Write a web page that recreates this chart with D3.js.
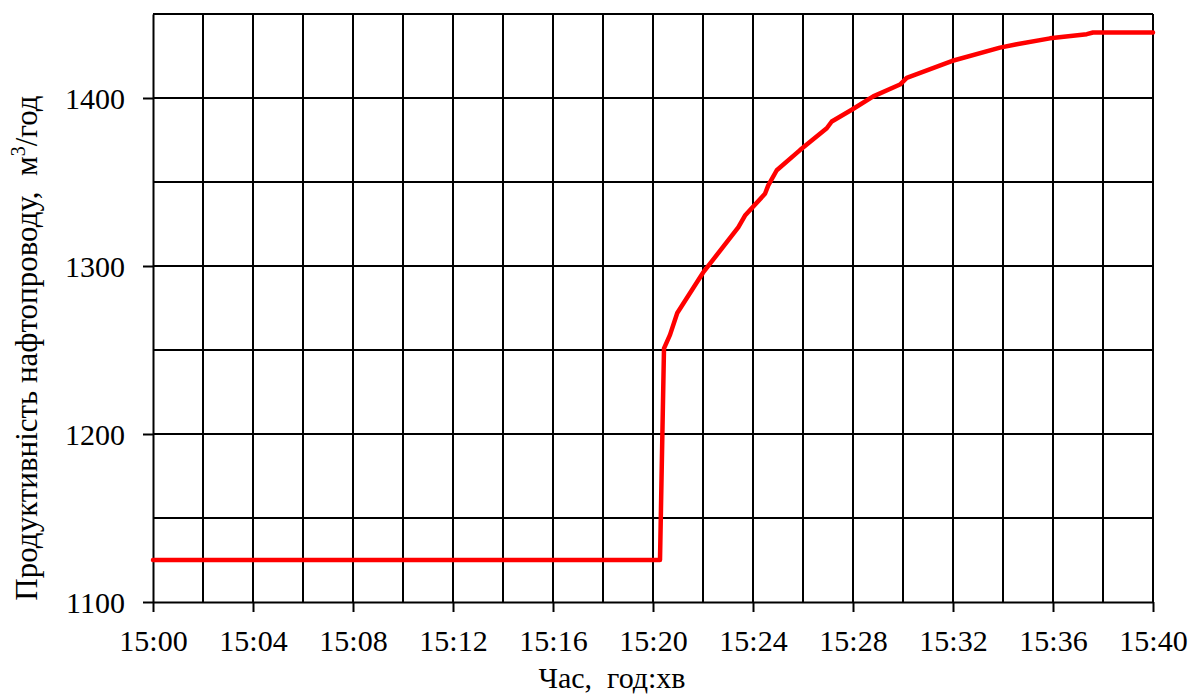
<!DOCTYPE html>
<html>
<head>
<meta charset="utf-8">
<script src="https://cdn.jsdelivr.net/npm/d3@7"></script>
</head>
<body style="margin:0">
<svg id="chart" width="1200" height="697" font-family="Liberation Serif" style="display:block;background:#fff"></svg>
<script>
// minutes after 15:00
const minutes = [0, 20.28, 20.44, 20.68, 20.97, 22.0, 23.41, 23.68, 24.48, 24.61, 24.95, 25.88, 26.95, 27.15, 27.95, 28.81, 29.88, 30.15, 31.6, 31.95, 33.88, 34.55, 35.88, 37.35, 37.6, 40];
const flow = [1125, 1125, 1251, 1259, 1272, 1296, 1323, 1330, 1343, 1348, 1357, 1369, 1382, 1386, 1393, 1401, 1408, 1412, 1420, 1422, 1430, 1432, 1435.5, 1438, 1439, 1439];
const xTickValues = [0, 4, 8, 12, 16, 20, 24, 28, 32, 36, 40];
const xTickLabels = ["15:00", "15:04", "15:08", "15:12", "15:16", "15:20", "15:24", "15:28", "15:32", "15:36", "15:40"];
const yTickValues = [1100, 1200, 1300, 1400];
const xGrid = [2, 4, 6, 8, 10, 12, 14, 16, 18, 20, 22, 24, 26, 28, 30, 32, 34, 36, 38, 40];
const yGrid = [1150, 1200, 1250, 1300, 1350, 1400, 1450];
const xTitle = "Час,  год:хв";
const yTitle = "Продуктивність нафтопроводу,  м";
const yTitleSup = "3";
const yTitleEnd = "/год";

const svg = d3.select("#chart");
const x = d3.scaleLinear().domain([0, 40]).range([153, 1153]);
const y = d3.scaleLinear().domain([1100, 1450]).range([602, 14]);

// grid
const g = svg.append("g");
g.selectAll("line.vg").data(xGrid).join("line")
  .attr("x1", d => x(d)).attr("x2", d => x(d))
  .attr("y1", y(1100)).attr("y2", y(1450))
  .attr("stroke", "#000").attr("stroke-width", 2);
g.selectAll("line.hg").data(yGrid).join("line")
  .attr("x1", x(0)).attr("x2", x(40))
  .attr("y1", d => y(d)).attr("y2", d => y(d))
  .attr("stroke", "#000").attr("stroke-width", 2);

// axes
const xAxis = d3.axisBottom(x).tickValues(xTickValues)
  .tickFormat((d, i) => xTickLabels[i]).tickSize(10).tickSizeOuter(0).tickPadding(18);
const yAxis = d3.axisLeft(y).tickValues(yTickValues)
  .tickFormat(d3.format("d")).tickSize(10).tickSizeOuter(0).tickPadding(18);

const gx = svg.append("g").attr("transform", `translate(0,${y(1100)})`).call(xAxis);
const gy = svg.append("g").attr("transform", `translate(${x(0)},0)`).call(yAxis);
[gx, gy].forEach(a => {
  a.attr("font-family", "Liberation Serif").attr("font-size", 30);
  a.select(".domain").attr("stroke", "#000").attr("stroke-width", 2);
  a.selectAll(".tick line").attr("stroke", "#000").attr("stroke-width", 2);
  a.selectAll(".tick text").attr("fill", "#000");
});
gy.selectAll(".tick text").attr("dy", "0.34em");

// line
const line = d3.line().x((d, i) => x(minutes[i])).y((d) => y(d));
svg.append("path").datum(flow)
  .attr("d", line)
  .attr("fill", "none").attr("stroke", "#ff0000").attr("stroke-width", 4.5)
  .attr("stroke-linejoin", "round").attr("stroke-linecap", "round");

// titles
svg.append("text").attr("x", 612).attr("y", 688)
  .attr("text-anchor", "middle")
  .attr("font-size", 30)
  .attr("xml:space", "preserve")
  .text(xTitle);

const yt = svg.append("text")
  .attr("transform", "translate(37,348) rotate(-90)")
  .attr("text-anchor", "middle")
  .attr("font-size", 31)
  .attr("xml:space", "preserve");
yt.append("tspan").text(yTitle);
yt.append("tspan").attr("font-size", 20).attr("dy", -12).text(yTitleSup);
yt.append("tspan").attr("dy", 12).text(yTitleEnd);
</script>
</body>
</html>
